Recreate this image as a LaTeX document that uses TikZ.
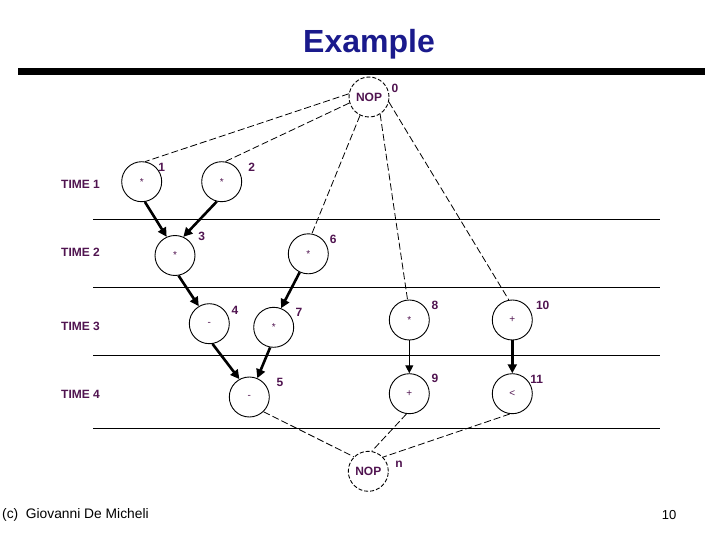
\documentclass[tikz,border=0pt]{standalone}
\usepackage{fontspec}
\setmainfont{Liberation Sans}
\usetikzlibrary{arrows.meta}
\definecolor{titleblue}{RGB}{26,26,140}
\definecolor{lblpurple}{RGB}{80,20,80}
\begin{document}
\begin{tikzpicture}[x=1pt,y=-1pt,
  op/.style={circle,draw,line width=0.9pt,minimum size=40pt,inner sep=0pt,
    font=\fontsize{10}{12}\selectfont,text=lblpurple},
  nopnode/.style={op,dash pattern=on 4pt off 2pt,font=\bfseries\fontsize{12}{14}\selectfont},
  num/.style={font=\bfseries\fontsize{12}{14}\selectfont,text=lblpurple,inner sep=0pt},
  timelbl/.style={font=\bfseries\fontsize{12}{14}\selectfont,text=lblpurple,anchor=base west,inner sep=0pt},
  sepline/.style={line width=0.9pt},
  dline/.style={line width=0.8pt,dash pattern=on 7pt off 3pt},
  dep/.style={line width=2.6pt,-{Triangle[length=9pt,width=9pt]}},
  depthin/.style={line width=1.3pt,-{Triangle[length=8pt,width=8pt]}}
]
\useasboundingbox (0,0) rectangle (720,540);

% title and bar
\node[anchor=base,font=\bfseries\fontsize{32}{38}\selectfont,text=titleblue,inner sep=0pt] (title) at (369,53) {Example};
\fill (18,68) rectangle (705,75);

% time step separators
\draw[sepline] (93,219.3) -- (660,219.3);
\draw[sepline] (93,287.3) -- (660,287.3);
\draw[sepline] (93,355.7) -- (660,355.7);
\draw[sepline] (93,428.3) -- (660,428.3);

% time labels
\node[timelbl] (t1) at (61,189) {TIME 1};
\node[timelbl] (t2) at (61,256.7) {TIME 2};
\node[timelbl] (t3) at (61,330.5) {TIME 3};
\node[timelbl] (t4) at (61,398.5) {TIME 4};

% operation nodes
\node[nopnode] (nop0) at (369,97) {NOP};
\node[op] (n1) at (141.7,181.7) {*};
\node[op] (n2) at (221.7,181.7) {*};
\node[op] (n3) at (175,255.5) {*};
\node[op] (n6) at (308.3,253.8) {*};
\node[op] (n4) at (209.3,323.7) {-};
\node[op] (n7) at (273.7,327.3) {*};
\node[op] (n8) at (409.3,320) {*};
\node[op] (n10) at (512.3,320) {+};
\node[op] (n5) at (249.3,397) {-};
\node[op] (n9) at (409.3,393.7) {+};
\node[op] (n11) at (512.3,393.7) {<};
\node[nopnode] (nopn) at (368.3,471.3) {NOP};

% node numbers
\node[num] (l0) at (395,88) {0};
\node[num] (l1) at (161.7,167) {1};
\node[num] (l2) at (251.7,167) {2};
\node[num] (l3) at (201.7,236.7) {3};
\node[num] (l6) at (333.3,239) {6};
\node[num] (l4) at (235,310) {4};
\node[num] (l7) at (299,312.3) {7};
\node[num] (l8) at (435,305) {8};
\node[num] (l10) at (542.7,305) {10};
\node[num] (l5) at (280,382.3) {5};
\node[num] (l9) at (435,378.3) {9};
\node[num] (l11) at (536.7,379) {11};
\node[num] (ln) at (399,464) {n};

% dashed source edges
\draw[dline] (nop0.171) -- (n1.80);
\draw[dline] (nop0.197) -- (n2.80);
\draw[dline] (nop0.244) -- (n6.80);
\draw[dline] (nop0.303) -- (n8.95);
\draw[dline] (nop0.346) -- (n10.100);

% data dependencies
\draw[dep] (n1.-81) -- (n3.114);
\draw[dep] (n2.256) -- (n3.66);
\draw[dep] (n3.-80) -- (n4.121);
\draw[dep] (n6.245) -- (n7.69);
\draw[dep] (n4.-81) -- (n5.119);
\draw[dep] (n7.260) -- (n5.67);
\draw[depthin] (n8) -- (n9);
\draw[dep] (n10) -- (n11);

% dashed sink edges
\draw[dline] (n5.-46) -- (nopn.135);
\draw[dline] (n9.262) -- (nopn.80);
\draw[dline] (n11.263) -- (nopn.44);

% footer
\node[anchor=base west,font=\fontsize{13.8}{16}\selectfont,inner sep=0pt] (credit) at (2,518) {(c)\ \ Giovanni De Micheli};
\node[anchor=base,font=\fontsize{13}{16}\selectfont,inner sep=0pt] (page) at (669,519) {10};
\end{tikzpicture}
\end{document}
